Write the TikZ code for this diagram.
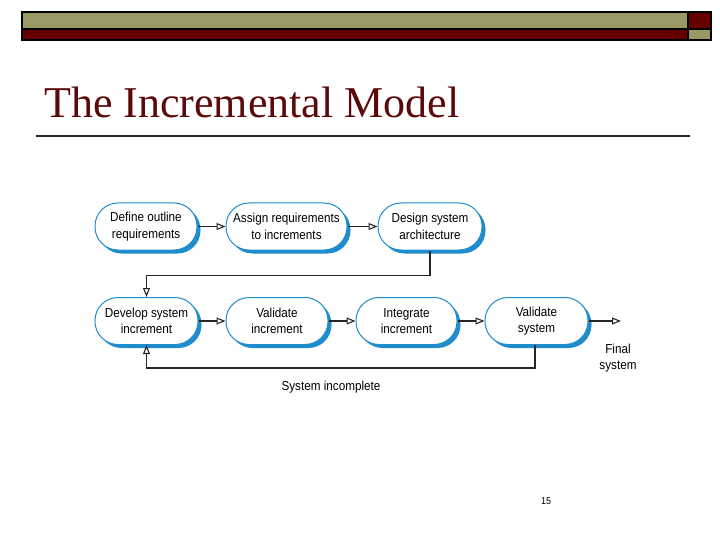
\documentclass[tikz,border=0pt]{standalone}
\usepackage{fontspec}
\setmainfont{Liberation Serif}
\newfontfamily\boxfont[FakeStretch=0.9]{Liberation Sans}
\usetikzlibrary{arrows.meta,shadows,positioning}
\definecolor{olivebar}{RGB}{153,153,102}
\definecolor{darkred}{RGB}{102,0,0}
\definecolor{titlered}{RGB}{90,10,10}
\definecolor{boxblue}{RGB}{30,140,205}
\tikzset{
  stage/.style={draw=boxblue, line width=1pt, fill=white, rounded corners=23pt,
    minimum height=47pt, align=center, inner sep=2pt,
    font=\boxfont\fontsize{13}{16.5}\selectfont,
    drop shadow={fill=boxblue, opacity=1, shadow xshift=3.5pt, shadow yshift=-3.5pt}},
  flow/.style={line width=1.1pt, draw=black!85, -{Triangle[open,length=9pt,width=7pt]}},
  lbl/.style={font=\boxfont\fontsize{13}{16}\selectfont, align=center, inner sep=0pt}
}
\begin{document}
\begin{tikzpicture}[x=1pt,y=-1pt]
\useasboundingbox (0,0) rectangle (720,540);
% header bars
\draw[line width=1.2pt, fill=olivebar] (22,12) rectangle (688,29);
\draw[line width=1.2pt, fill=darkred] (22,29) rectangle (688,40);
\draw[line width=1.2pt, fill=darkred] (688,12) rectangle (711,29);
\draw[line width=1.2pt, fill=olivebar] (688,29) rectangle (711,40);
% title
\node[anchor=base west, inner sep=0pt, text=titlered, font=\fontsize{44}{50}\selectfont] (title) at (44,118) {The Incremental Model};
\draw[line width=1.6pt, black!85] (36,136) -- (690,136);
% boxes
\node[stage, minimum width=102pt] (b1) at (146,226.5) {Define outline\\requirements};
\node[stage, minimum width=121pt] (b2) at (286.5,226.5) {Assign requirements\\to increments};
\node[stage, minimum width=104pt] (b3) at (430,226.5) {Design system\\architecture};
\node[stage, minimum width=103pt] (b4) at (146.5,321) {Develop system\\increment};
\node[stage, minimum width=102pt] (b5) at (277,321) {Validate\\increment};
\node[stage, minimum width=101pt] (b6) at (406.5,321) {Integrate\\increment};
\node[stage, minimum width=103pt] (b7) at (536.5,321) {Validate\\system};
% connectors
\draw[flow] (b1) -- (b2);
\draw[flow] (b2) -- (b3);
\draw[flow] (b3.south) -- ++(0,25) -| (b4.north);
\draw[flow] (b4) -- (b5);
\draw[flow] (b5) -- (b6);
\draw[flow] (b6) -- (b7);
\coordinate (fin) at (621,321);
\draw[flow] (b7) -- (fin);
\draw[flow] (b7.south -| 535,0) -- (535,368) -| (b4.south);
% labels
\node[lbl] (final) at (618,358) {Final\\system};
\node[lbl] (inc) at (331,387) {System incomplete};
\node[font=\boxfont\fontsize{10}{11}\selectfont, inner sep=0pt] (pg) at (546,501) {15};
\end{tikzpicture}
\end{document}
